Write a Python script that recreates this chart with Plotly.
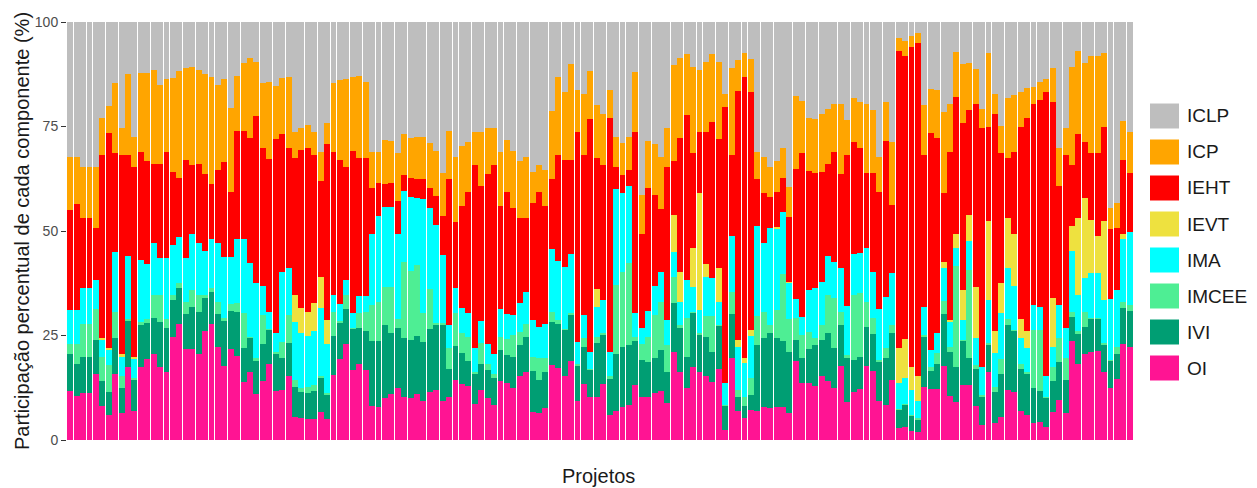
import plotly.graph_objects as go

OI = [11.7,10.5,11.3,11.3,15.7,8.2,6.1,15.7,6.4,17.5,
6.9,17.5,19.4,20.5,17.5,16.2,24.7,27.7,21.7,21.7,
20.5,26.0,27.7,22.3,17.8,21.8,20.2,13.8,16.2,10.9,
14.2,18.3,11.7,12.0,15.4,5.6,5.2,5.0,5.0,6.6,
5.0,15.6,19.4,22.9,16.7,18.3,16.7,8.2,8.0,10.0,
10.9,12.4,10.4,10.1,10.9,9.3,11.4,12.0,9.3,10.4,
14.4,13.3,13.0,8.5,12.0,10.1,8.4,14.1,13.6,12.5,
15.2,16.2,6.8,6.4,7.6,17.9,17.3,15.2,18.9,9.3,
13.3,10.4,10.4,13.3,6.0,6.9,8.0,8.4,13.2,10.4,
10.4,11.3,11.7,8.8,21.0,16.2,12.4,17.5,16.2,15.4,
13.8,16.9,2.4,19.5,6.9,5.2,7.2,6.9,8.0,7.6,
8.0,8.0,6.4,19.0,13.7,13.7,13.0,15.2,14.1,12.5,
17.8,9.2,11.4,12.2,17.8,16.5,9.3,8.4,14.4,2.8,
3.0,2.2,2.0,12.8,12.2,12.2,17.8,10.6,9.2,13.2,
13.2,8.2,3.7,16.2,4.0,5.6,12.0,11.4,6.9,6.1,
4.0,4.2,3.0,6.6,9.6,6.4,23.7,18.3,20.5,21.1,
21.3,16.2,12.4,14.6,22.9,22.3]

IVI = [8.8,7.8,8.6,8.6,8.2,5.9,5.3,8.6,6.1,11.0,
7.5,10.1,8.6,8.6,10.8,10.7,8.8,8.6,8.4,10.2,
10.2,8.0,7.8,7.8,10.7,9.1,10.5,8.3,8.3,8.2,
8.7,8.1,8.8,7.5,7.7,7.0,6.4,6.2,6.7,8.2,
6.0,9.4,8.5,8.4,10.0,8.4,9.4,15.5,15.7,17.5,
14.6,14.3,14.1,13.8,14.1,14.1,15.2,15.6,18.2,6.5,
8.1,7.4,6.0,7.2,6.3,6.6,6.4,7.4,6.7,7.4,
7.5,8.5,9.7,8.0,8.7,10.4,10.4,11.2,11.2,8.6,
9.0,6.5,12.7,12.0,8.6,13.6,14.3,14.3,10.5,8.7,
8.3,8.4,9.8,7.4,11.7,10.5,7.5,13.0,9.1,9.3,
7.3,10.5,5.8,10.6,3.5,3.0,3.6,15.8,16.5,17.9,
16.5,15.7,14.7,4.9,5.8,8.0,9.7,8.7,11.4,9.6,
9.6,10.3,7.7,7.7,9.3,8.8,9.4,11.1,11.1,4.4,
5.4,3.6,3.0,11.9,4.3,5.9,12.3,10.5,8.3,10.7,
6.5,8.9,6.7,6.7,7.6,10.3,15.5,14.7,10.2,9.8,
8.5,7.5,7.1,7.5,9.1,8.0,5.8,7.0,6.6,8.0,
7.8,6.7,6.5,5.9,8.6,8.6]

IMCEE = [2.4,4.6,7.8,7.8,7.4,5.8,6.6,6.4,2.7,0.5,
0.5,0.7,1.0,5.7,6.5,2.1,1.3,1.2,2.8,4.0,
4.1,0.7,0.9,2.8,0.6,1.6,2.0,8.4,0.2,0.4,
7.0,0.2,0.5,3.9,6.8,1.8,0.9,1.6,1.5,0.6,
0.2,5.7,0.6,3.5,0.2,3.6,4.6,8.6,9.2,9.2,
11.2,2.3,18.2,16.5,16.9,7.1,9.5,0.3,0.6,5.2,
8.0,4.8,5.7,0.5,4.8,1.4,0.9,3.2,3.9,5.2,
3.2,3.0,3.4,5.1,3.4,2.4,1.0,0.2,0.2,0.2,
2.0,0.2,1.6,0.2,0.6,16.7,18.0,19.6,1.0,3.8,
6.0,10.2,11.4,6.5,6.4,0.7,9.2,0.2,0.2,5.0,
8.6,0.1,0.2,5.2,1.6,2.2,4.0,7.0,6.2,2.0,
6.6,15.9,7.9,5.2,5.6,4.2,1.8,3.5,9.3,11.8,
3.3,0.8,15.6,15.2,6.0,4.0,0.4,2.4,2.0,0.2,
0.1,0.2,0.2,0.4,1.0,2.6,3.2,1.2,24.2,0.1,
21.0,0.8,0.4,0.2,1.2,3.5,1.5,0.2,1.2,0.3,
13.8,14.6,0.3,3.4,5.8,5.1,1.2,0.8,3.6,0.2,
0.2,0.2,0.2,1.8,1.6,1.4]

IMA = [8.2,8.2,8.6,8.6,7.0,4.0,3.5,14.3,4.7,15.0,
4.6,14.7,13.0,12.4,8.8,14.6,11.9,11.1,10.7,13.3,
12.4,10.5,11.8,14.3,14.8,11.4,15.5,17.7,17.6,18.0,
7.0,4.1,4.5,16.7,11.3,13.9,13.0,12.2,12.9,16.1,
11.7,4.1,4.0,3.5,3.6,4.2,3.8,16.9,20.7,19.1,
19.1,20.4,16.9,17.8,15.9,27.2,19.5,23.5,16.2,5.3,
5.9,6.0,5.8,5.7,5.4,4.8,4.8,6.6,5.9,4.8,
6.8,7.6,8.8,7.6,8.0,15.0,14.1,14.9,14.1,5.4,
5.6,4.0,7.0,8.0,5.9,22.8,18.7,18.5,5.8,3.8,
6.2,7.0,7.4,6.0,5.9,5.5,9.2,6.0,5.6,9.4,
9.0,5.6,5.2,13.6,10.3,8.1,10.2,21.5,16.5,23.1,
19.5,14.9,8.6,4.6,4.4,9.9,11.9,10.5,9.3,8.6,
10.4,11.8,9.7,9.6,12.8,10.8,12.2,12.4,12.4,6.2,
6.3,6.0,4.1,6.8,4.0,4.8,7.8,6.0,4.3,4.7,
6.9,6.4,6.7,10.4,7.9,11.1,12.1,10.6,6.2,5.7,
6.0,5.6,4.9,4.8,7.8,7.2,14.5,8.7,8.1,10.6,
10.6,10.4,14.6,13.6,15.1,17.5]

IEVT = [0,0,0,0,0,0.6,0.5,0,0.6,0,
0.4,0,0,0,0,0,0,0,0,0,
0,0,0,0,0,0,0,0,0,0,
0,0,0,0,0,6.4,6.0,5.7,6.6,7.6,
5.8,0,0,0,0,0,0,0,0,0,
0,0,0,0,0,0,0,0,0,0,
0,0,0,0,0,0,0,0,0,0,
0,0,0,0,0,0,0,0,0,0,
0,0,4.4,0,0,0,0,0,0,0,
0,0,0,0,8.8,7.4,0,9.2,27.9,2.9,
0,8.0,0,0,1.6,1.2,1.3,0,0,0,
0.4,0,0.3,0,0,0,0,0,0,0,
0,0,0,0,0,0,0,0,0,8.3,
9.4,5.5,6.1,0,0,0,1.6,0.3,3.4,7.2,
6.3,12.4,0,18.9,5.4,7.1,12.1,12.3,4.5,4.1,
0,0,0,11.6,0,0,6.0,18.4,19.0,12.7,
9.0,18.9,0,0,1.0,0]

IEHT = [23.9,25.4,16.9,16.9,12.3,43.7,51.4,23.6,47.8,24.2,
45.3,26.0,24.8,18.8,22.4,25.2,17.5,14.2,23.4,16.6,
18.8,18.4,13.0,17.4,22.7,15.4,25.7,25.7,29.9,40.1,
33.0,36.5,46.5,33.0,28.6,32.8,37.9,39.1,35.6,22.9,
42.0,34.2,34.5,26.9,38.6,33.0,32.9,11.2,8.0,5.4,
5.6,7.8,3.8,4.6,4.6,4.7,4.8,7.0,9.4,35.0,
15.8,24.5,28.8,43.9,32.3,40.7,45.3,24.7,29.2,25.7,
20.3,17.7,27.9,32.3,28.4,16.7,25.4,25.5,22.6,50.1,
38.4,55.7,31.4,32.3,56.0,5.4,4.4,3.8,43.3,22.7,
29.5,21.7,15.0,36.5,12.9,31.9,39.5,22.7,14.8,31.6,
37.3,30.9,66.1,19.3,59.6,67.2,56.9,11.2,11.8,7.6,
8.4,8.1,15.5,31.1,39.1,28.6,27.4,26.3,21.9,26.3,
22.5,36.2,26.8,25.1,17.9,23.7,28.0,37.2,16.3,71.2,
67.7,76.6,79.5,36.3,51.9,46.7,16.3,40.4,32.7,39.9,
25.0,43.8,57.1,22.6,51.8,31.0,14.2,19.8,46.0,51.1,
48.2,49.4,68.0,46.9,28.5,41.6,14.6,19.9,13.6,16.1,
19.7,22.6,16.8,14.7,17.8,14.0]

ICP = [12.8,11.3,12.2,12.2,14.8,8.8,6.6,16.7,6.3,19.3,
7.4,18.9,21.1,22.5,19.0,17.6,22.5,25.5,21.9,23.5,
22.5,23.9,25.7,20.4,19.7,20.2,13.2,16.4,19.1,12.9,
15.6,18.5,12.8,13.4,17.0,6.1,5.3,5.6,5.5,7.0,
5.2,16.3,19.1,21.2,17.8,19.7,18.3,8.6,7.4,10.6,
10.1,11.4,9.7,9.4,10.2,10.2,10.6,10.7,10.1,11.5,
15.6,14.3,11.9,8.0,13.0,11.1,8.9,13.0,12.5,13.5,
13.7,14.8,7.6,6.5,8.5,16.4,18.7,16.3,22.9,10.1,
14.4,11.5,12.6,12.1,6.6,7.2,7.6,8.0,14.2,9.2,
11.1,12.1,12.5,9.5,22.9,19.1,14.5,20.7,14.7,16.8,
16.3,18.4,3.1,20.9,7.4,5.6,7.9,6.6,8.8,7.0,
7.3,7.3,7.2,17.5,12.5,12.7,13.0,13.7,13.1,11.5,
16.7,8.3,10.7,11.1,16.7,15.1,8.5,9.4,15.2,3.0,
3.6,2.6,2.4,11.9,10.6,11.5,19.5,11.3,10.8,14.1,
11.4,8.3,4.5,17.7,4.8,6.6,14.3,13.5,8.2,7.2,
4.0,4.4,3.1,8.1,9.0,6.3,23.5,20.0,18.9,23.2,
23.3,17.7,5.1,6.0,9.3,9.8]

ICLP = [32.2,32.2,34.6,34.6,34.6,23.0,20.0,14.7,25.4,12.5,
27.4,12.1,12.1,11.5,15.0,13.6,13.3,11.7,11.1,10.7,
11.5,12.5,13.1,15.0,13.7,20.5,12.9,9.7,8.7,9.5,
14.5,14.3,15.2,13.5,13.2,26.4,25.3,24.6,26.2,31.0,
24.1,14.7,13.9,13.6,13.1,12.8,14.3,31.0,31.0,28.2,
28.5,31.4,26.9,27.8,27.4,27.4,29.0,30.9,36.2,26.1,
32.2,29.7,28.8,26.2,26.2,25.3,25.3,31.0,28.2,30.9,
33.3,32.2,35.8,34.1,35.4,21.2,13.1,16.7,10.1,16.3,
17.3,11.7,19.9,22.1,16.3,27.4,29.0,27.4,12.0,41.4,
28.5,29.3,32.2,25.3,10.4,8.7,7.7,10.7,11.5,9.6,
7.7,9.6,17.2,10.9,9.1,7.5,8.9,31.0,32.2,34.8,
33.3,30.1,39.4,17.7,18.9,22.9,23.2,22.1,20.9,19.7,
19.7,23.4,18.1,19.1,19.5,21.1,32.2,19.1,28.6,3.9,
4.5,3.3,2.7,19.9,16.0,16.3,21.5,19.7,7.1,10.1,
9.7,11.2,20.9,7.3,17.3,24.8,18.3,17.5,16.8,15.7,
15.5,14.3,13.6,11.1,30.2,25.4,10.7,6.9,9.7,8.1,
8.1,7.3,44.4,43.4,23.7,26.4]

PROJECTS = list(range(1, len(OI) + 1))

SERIES = ["OI", "IVI", "IMCEE", "IMA", "IEVT", "IEHT", "ICP", "ICLP"]
VALUES = [OI, IVI, IMCEE, IMA, IEVT, IEHT, ICP, ICLP]
COLORS = ["#FF1493", "#009E73", "#4EEE94", "#00FFFF", "#EEE13F", "#FF0000", "#FFA500", "#BEBEBE"]
YTICKS = [0, 25, 50, 75, 100]

FONT = "Liberation Sans, Arial, sans-serif"

fig = go.Figure()
for name, vals, col in zip(SERIES, VALUES, COLORS):
    fig.add_trace(go.Bar(x=PROJECTS, y=vals, name=name, marker=dict(color=col, line=dict(width=0)),
                         showlegend=False))

# plot area in pixels
L, R, T, B = 67, 1133, 22, 440
W, H = R - L, B - T
def px(x):
    return (x - L) / W
def py(y):
    return (B - y) / H

shapes = []
annotations = []
legend_order = list(zip(SERIES, COLORS))[::-1]
for k, (name, col) in enumerate(legend_order):
    cy = 116 + 36 * k
    shapes.append(dict(type="rect", xref="paper", yref="paper",
                       x0=px(1150), x1=px(1179), y0=py(cy + 12.5), y1=py(cy - 12.5),
                       fillcolor=col, line=dict(width=0)))
    annotations.append(dict(xref="paper", yref="paper", x=px(1185), y=py(cy), text=name,
                            showarrow=False, xanchor="left", yanchor="middle",
                            font=dict(family=FONT, size=19, color="#1A1A1A")))

annotations.append(dict(xref="paper", yref="paper", x=px(22), y=py(231),
                        text="Participação percentual de cada componente (%)", textangle=-90,
                        showarrow=False, xanchor="center", yanchor="middle",
                        font=dict(family=FONT, size=20, color="#1A1A1A")))
annotations.append(dict(xref="paper", yref="paper", x=px(598), y=py(476), text="Projetos",
                        showarrow=False, xanchor="center", yanchor="middle",
                        font=dict(family=FONT, size=20, color="#1A1A1A")))

fig.update_layout(
    barmode="stack",
    bargap=0.08,
    width=1257, height=488,
    margin=dict(l=L, r=1257 - R, t=T, b=488 - B, pad=0),
    plot_bgcolor="white", paper_bgcolor="white",
    shapes=shapes, annotations=annotations,
    font=dict(family=FONT),
    xaxis=dict(range=[0.5, len(OI) + 0.5], showticklabels=False, showgrid=False,
               zeroline=False, ticks="", showline=False),
    yaxis=dict(range=[0, 100], tickvals=YTICKS, ticktext=[str(v) for v in YTICKS],
               ticks="outside", ticklen=5, tickcolor="#333333", tickwidth=1,
               tickfont=dict(family=FONT, size=14, color="#4D4D4D"),
               showgrid=False, zeroline=False, showline=False),
)

fig.write_html("out.html")
